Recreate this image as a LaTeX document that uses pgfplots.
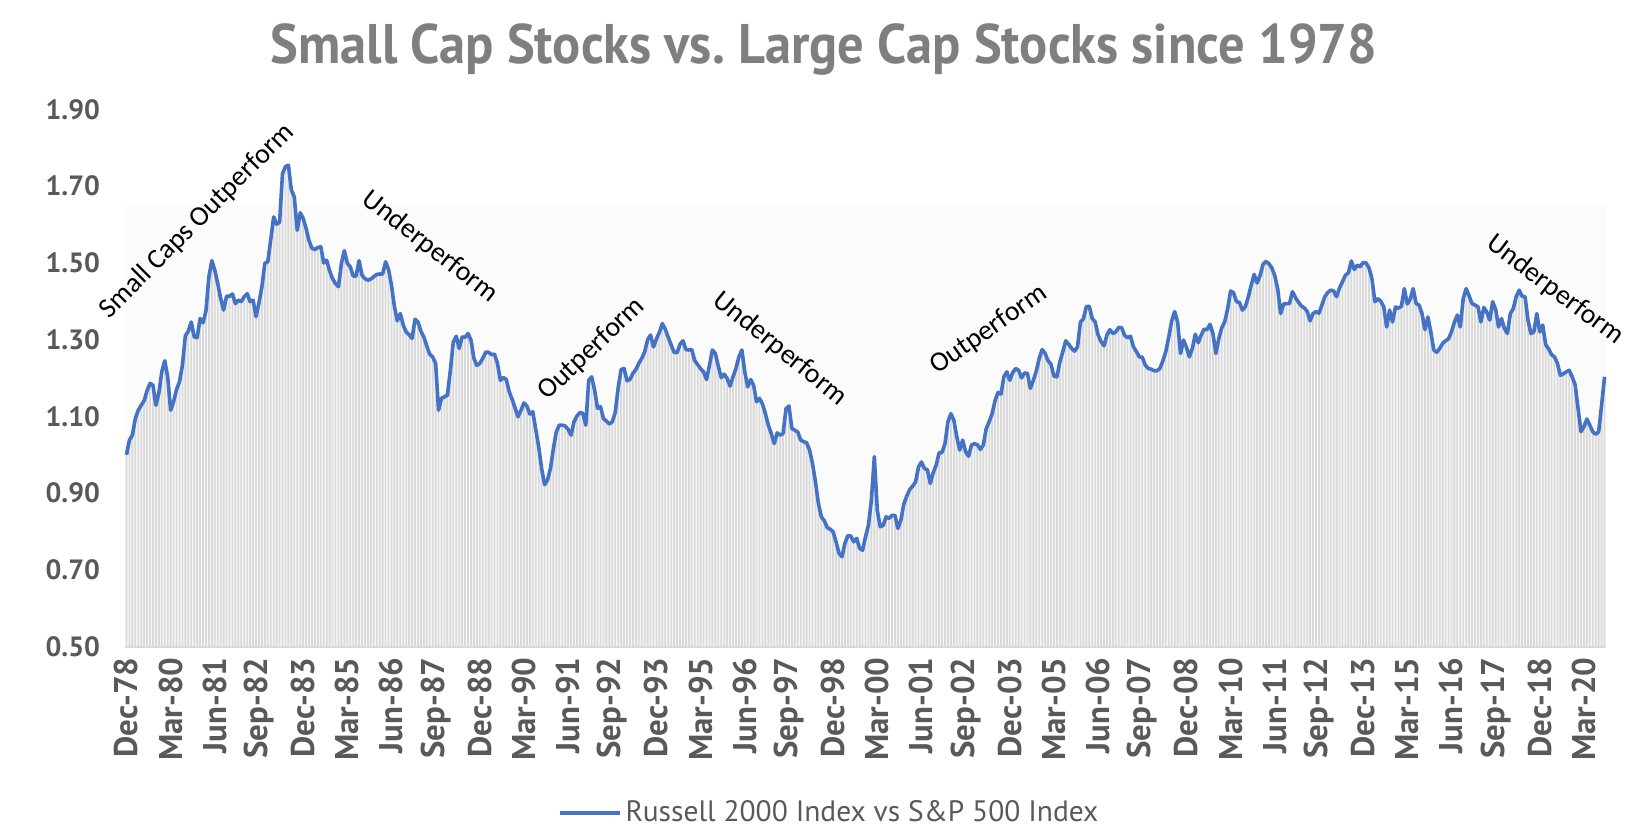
\documentclass[border=0pt]{standalone}
\usepackage{fontspec}
\setmainfont{PT Sans}
\newfontfamily\annfont{Carlito}
\usepackage{pgfplots}
\usepackage{pgfplotstable}
\pgfplotsset{compat=1.18}
\definecolor{lineblue}{HTML}{4472C4}
\definecolor{bargray}{HTML}{D9D9D9}
\definecolor{txtgray}{HTML}{595959}
\definecolor{titlegray}{HTML}{7F7F7F}

\pgfplotstableread{
v
1.000
1.038
1.051
1.094
1.116
1.129
1.141
1.167
1.186
1.181
1.129
1.161
1.216
1.245
1.203
1.116
1.138
1.170
1.190
1.233
1.310
1.322
1.346
1.307
1.305
1.355
1.344
1.375
1.464
1.506
1.481
1.446
1.407
1.377
1.413
1.413
1.419
1.394
1.403
1.399
1.412
1.420
1.399
1.403
1.360
1.396
1.438
1.499
1.503
1.561
1.620
1.601
1.606
1.733
1.751
1.755
1.690
1.672
1.585
1.631
1.616
1.590
1.558
1.538
1.535
1.540
1.542
1.500
1.507
1.479
1.459
1.446
1.438
1.499
1.532
1.499
1.490
1.466
1.466
1.506
1.468
1.459
1.455
1.458
1.464
1.470
1.471
1.471
1.503
1.483
1.442
1.386
1.349
1.368
1.338
1.320
1.313
1.303
1.353
1.346
1.322
1.307
1.283
1.262
1.255
1.238
1.116
1.147
1.151
1.155
1.220
1.294
1.309
1.277
1.307
1.306
1.316
1.299
1.251
1.233
1.238
1.251
1.267
1.267
1.261
1.262
1.238
1.194
1.201
1.196
1.164
1.144
1.121
1.099
1.116
1.135
1.127
1.106
1.112
1.066
1.021
0.964
0.922
0.934
0.964
1.016
1.060
1.077
1.077
1.075
1.066
1.051
1.086
1.101
1.110
1.108
1.077
1.194
1.203
1.168
1.121
1.125
1.094
1.088
1.080
1.086
1.110
1.175
1.222
1.225
1.193
1.196
1.212
1.222
1.238
1.251
1.268
1.300
1.312
1.281
1.302
1.319
1.342
1.327
1.306
1.286
1.267
1.266
1.288
1.297
1.274
1.273
1.274
1.245
1.235
1.224
1.216
1.196
1.233
1.273
1.264
1.231
1.201
1.210
1.199
1.179
1.203
1.225
1.255
1.273
1.216
1.177
1.196
1.181
1.138
1.147
1.132
1.107
1.077
1.055
1.029
1.057
1.051
1.055
1.120
1.127
1.068
1.064
1.059
1.038
1.034
1.031
1.012
0.977
0.929
0.873
0.838
0.828
0.810
0.806
0.799
0.773
0.743
0.734
0.769
0.789
0.788
0.773
0.782
0.756
0.751
0.786
0.816
0.882
0.995
0.855
0.812
0.816
0.838
0.834
0.842
0.842
0.808
0.829
0.871
0.892
0.909
0.918
0.929
0.968
0.981
0.964
0.961
0.925
0.953
0.973
1.005
1.006
1.029
1.086
1.107
1.090
1.047
1.012
1.038
1.008
0.996
1.025
1.029
1.026
1.014
1.025
1.068
1.086
1.107
1.141
1.162
1.158
1.203
1.216
1.194
1.214
1.225
1.220
1.200
1.213
1.212
1.173
1.194
1.218
1.251
1.274
1.264
1.245
1.236
1.205
1.203
1.242
1.268
1.297
1.288
1.277
1.270
1.281
1.346
1.354
1.386
1.387
1.355
1.346
1.312
1.295
1.284
1.312
1.326
1.316
1.320
1.332
1.331
1.311
1.305
1.309
1.281
1.269
1.255
1.254
1.234
1.225
1.223
1.219
1.219
1.225
1.245
1.269
1.307
1.349
1.373
1.346
1.264
1.299
1.280
1.255
1.277
1.314
1.292
1.312
1.327
1.326
1.340
1.316
1.264
1.303
1.331
1.346
1.381
1.427
1.422
1.399
1.397
1.377
1.386
1.411
1.442
1.470
1.448
1.467
1.496
1.504
1.498
1.487
1.467
1.432
1.368
1.393
1.394
1.394
1.425
1.410
1.398
1.388
1.383
1.374
1.349
1.368
1.373
1.369
1.390
1.412
1.423
1.429
1.427
1.412
1.435
1.451
1.468
1.474
1.505
1.483
1.494
1.490
1.501
1.500
1.487
1.459
1.399
1.407
1.400
1.386
1.333
1.377
1.346
1.385
1.382
1.387
1.433
1.393
1.405
1.433
1.394
1.390
1.368
1.326
1.359
1.320
1.273
1.267
1.277
1.290
1.297
1.302
1.320
1.345
1.364
1.333
1.407
1.433
1.414
1.394
1.390
1.386
1.346
1.384
1.372
1.351
1.399
1.379
1.333
1.355
1.329
1.316
1.368
1.381
1.412
1.429
1.413
1.412
1.351
1.316
1.320
1.368
1.320
1.338
1.287
1.276
1.261
1.255
1.238
1.207
1.211
1.216
1.220
1.203
1.183
1.121
1.060
1.073
1.093
1.077
1.060
1.053
1.060
1.129
1.203
}\ratio

\begin{document}
\begin{tikzpicture}
\path[use as bounding box] (-62.5bp,-93.25bp) rectangle (755bp,323.25bp);
\begin{axis}[
  at={(0,0)}, anchor=south west,
  scale only axis, width=740.5bp, height=268.5bp,
  xmin=-0.5, xmax=502.5, ymin=0.5, ymax=1.9,
  xtick={0,15,...,495},
  xticklabels={Dec-78,Mar-80,Jun-81,Sep-82,Dec-83,Mar-85,Jun-86,Sep-87,Dec-88,Mar-90,Jun-91,Sep-92,Dec-93,Mar-95,Jun-96,Sep-97,Dec-98,Mar-00,Jun-01,Sep-02,Dec-03,Mar-05,Jun-06,Sep-07,Dec-08,Mar-10,Jun-11,Sep-12,Dec-13,Mar-15,Jun-16,Sep-17,Dec-18,Mar-20},
  ytick={0.5,0.7,0.9,1.1,1.3,1.5,1.7,1.9},
  axis line style={draw=none},
  major tick length=0pt,
  clip=false,
  yticklabel style={font=\bfseries\fontsize{14}{16}\selectfont, text=txtgray, anchor=east, xshift=-9bp},
  xticklabel style={font=\bfseries\fontsize{16.5}{18}\selectfont, text=txtgray, rotate=90, anchor=east, xshift=-2bp},
  /pgf/number format/fixed,
  /pgf/number format/fixed zerofill,
  /pgf/number format/precision=2,
  /pgf/number format/assume math mode=true,
  legend style={at={(0.476,-0.31)}, anchor=center, draw=none, fill=none,
    font=\fontsize{14.8}{17}\selectfont, text=txtgray},
  legend image code/.code={\draw[#1, line width=2bp] (0bp,0bp) -- (30bp,0bp);},
]
\fill[black!1.5] (axis cs:-0.5,0.5) rectangle (axis cs:502.5,1.65);
\addplot[ybar, bar width=0.62, fill=bargray, draw=none, forget plot]
  table[x expr=\coordindex, y=v] {\ratio};
\draw[bargray, line width=1bp] (axis cs:-0.5,0.5) -- (axis cs:502.5,0.5);
\addplot[lineblue, line width=1.8bp, line join=round, mark=none]
  table[x expr=\coordindex, y=v] {\ratio};
\addlegendentry{Russell 2000 Index vs S\&P 500 Index}
\end{axis}
\node[font=\bfseries\fontsize{28}{32}\selectfont, text=titlegray] at (349.5bp,298.5bp)
  {\scalebox{0.94}[1]{Small Cap Stocks vs.\ Large Cap Stocks since 1978}};
\begin{scope}[every node/.style={font=\annfont\fontsize{14}{16}\selectfont, text=black}]
\node[rotate=45] at (36bp,212.75bp) {Small Caps Outperform};
\node[rotate=-38] at (152.5bp,199.75bp) {Underperform};
\node[rotate=43.5] at (233.5bp,148.75bp) {Outperform};
\node[rotate=-39] at (327.5bp,148.75bp) {Underperform};
\node[rotate=35] at (432bp,158.25bp) {Outperform};
\node[rotate=-37] at (715bp,178.25bp) {Underperform};
\end{scope}
\end{tikzpicture}
\end{document}
